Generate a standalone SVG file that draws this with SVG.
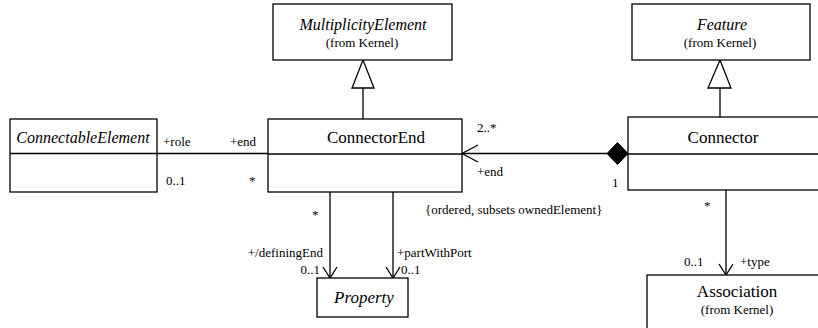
<svg xmlns="http://www.w3.org/2000/svg" width="818" height="328" viewBox="0 0 818 328">
  <style>
    .box { fill: #ffffff; stroke: #000000; stroke-width: 1.3; }
    .line { fill: none; stroke: #000000; stroke-width: 1.3; }
    .head { fill: #ffffff; stroke: #000000; stroke-width: 1.3; }
    .diamond { fill: #000000; stroke: #000000; stroke-width: 1; }
    text { fill: #000000; font-family: Liberation Serif, Times New Roman, DejaVu Serif, serif; }
    .name { font-size: 17px; }
    .abstract { font-size: 16px; font-style: italic; }
    .pkg { font-size: 13px; }
    .lbl { font-size: 13px; }
  </style>

  <!-- connectors -->
  <g id="connectors">
    <!-- ConnectorEnd generalizes MultiplicityElement -->
    <line class="line" x1="363" y1="88" x2="363" y2="119"/>
    <polygon class="head" points="363,60 352,88 374,88"/>
    <!-- Connector generalizes Feature -->
    <line class="line" x1="720" y1="88" x2="720" y2="117"/>
    <polygon class="head" points="720,60 708,88 731,88"/>
    <!-- ConnectableElement role / end -->
    <line class="line" x1="157" y1="153.5" x2="268" y2="153.5"/>
    <!-- Connector owns ConnectorEnd (composition) -->
    <line class="line" x1="462" y1="153.5" x2="607" y2="153.5"/>
    <polyline class="line" points="478,145 462,153.5 478,162"/>
    <polygon class="diamond" points="607,153.5 617.5,142.5 628,153.5 617.5,164.5"/>
    <!-- definingEnd -->
    <line class="line" x1="330" y1="192" x2="330" y2="278"/>
    <polyline class="line" points="323,267 330,278 337,267"/>
    <!-- partWithPort -->
    <line class="line" x1="393" y1="192" x2="393" y2="278"/>
    <polyline class="line" points="386,267 393,278 400,267"/>
    <!-- type -->
    <line class="line" x1="726" y1="190" x2="726" y2="275"/>
    <polyline class="line" points="719,264 726,275 733,264"/>
  </g>

  <!-- connector labels -->
  <g id="labels" class="lbl">
    <text x="163" y="146">+role</text>
    <text x="230" y="146">+end</text>
    <text x="166" y="185">0..1</text>
    <text x="249" y="185">*</text>
    <text x="477" y="132">2..*</text>
    <text x="477" y="176">+end</text>
    <text x="612" y="187">1</text>
    <text x="425" y="214">{ordered, subsets ownedElement}</text>
    <text x="312" y="219">*</text>
    <text x="323" y="257" text-anchor="end">+/definingEnd</text>
    <text x="320" y="274" text-anchor="end">0..1</text>
    <text x="397" y="257">+partWithPort</text>
    <text x="401" y="274">0..1</text>
    <text x="704" y="210">*</text>
    <text x="684" y="266">0..1</text>
    <text x="740" y="266">+type</text>
  </g>

  <g id="MultiplicityElement">
    <rect class="box" x="273" y="4" width="179" height="56"/>
    <text class="abstract" x="363" y="30" text-anchor="middle">MultiplicityElement</text>
    <text class="pkg" x="362" y="47" text-anchor="middle">(from Kernel)</text>
  </g>

  <g id="Feature">
    <rect class="box" x="632" y="4" width="178" height="56"/>
    <text class="abstract" x="722" y="30" text-anchor="middle">Feature</text>
    <text class="pkg" x="720" y="47" text-anchor="middle">(from Kernel)</text>
  </g>

  <g id="ConnectableElement">
    <rect class="box" x="10" y="119" width="147" height="73"/>
    <line class="line" x1="10" y1="153.5" x2="157" y2="153.5"/>
    <text class="abstract" x="83" y="143" text-anchor="middle">ConnectableElement</text>
  </g>

  <g id="ConnectorEnd">
    <rect class="box" x="268" y="119" width="194" height="73"/>
    <line class="line" x1="268" y1="154" x2="462" y2="154"/>
    <text class="name" x="376" y="143" text-anchor="middle">ConnectorEnd</text>
  </g>

  <g id="Connector">
    <rect class="box" x="628" y="117" width="200" height="73"/>
    <line class="line" x1="628" y1="154" x2="828" y2="154"/>
    <text class="name" x="723" y="143" text-anchor="middle">Connector</text>
  </g>

  <g id="Property">
    <rect class="box" x="317" y="278" width="91" height="39"/>
    <text class="name" x="364" y="303" text-anchor="middle" font-style="italic">Property</text>
  </g>

  <g id="Association">
    <rect class="box" x="647" y="275" width="181" height="60"/>
    <text class="name" x="737" y="297" text-anchor="middle">Association</text>
    <text class="pkg" x="737" y="314" text-anchor="middle">(from Kernel)</text>
  </g>
</svg>
